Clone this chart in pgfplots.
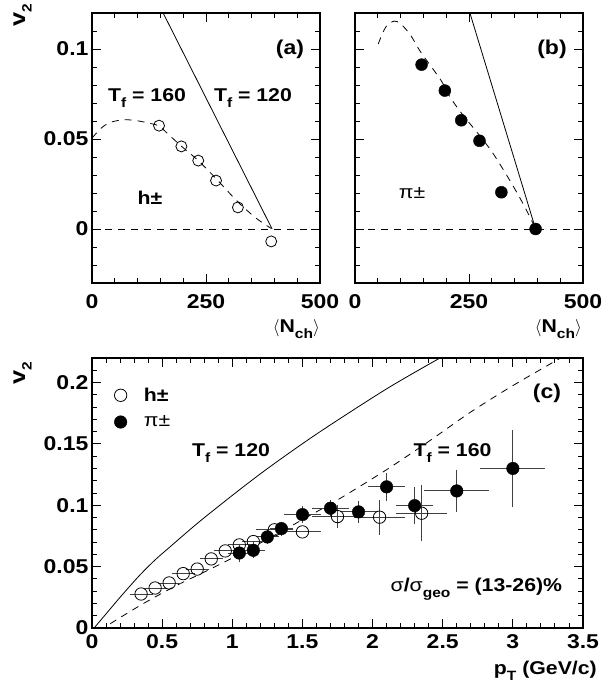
\documentclass[border=0pt]{standalone}
\usepackage{pgfplots}
\pgfplotsset{compat=1.18}
\usepackage{fontspec}
\setmainfont{Liberation Sans}[FakeStretch=1.15]
\newcommand\sub[1]{\raisebox{-0.3em}{\fontsize{13.5}{13.5}\selectfont #1}}
\newcommand\anfont{\fontsize{18.5}{20}\selectfont\bfseries}
\begin{document}
\begin{tikzpicture}[x=1pt,y=1pt]
\pgfplotsset{
  rootstyle/.style={
    scale only axis, anchor=south west,
    tick align=inside,
    major tick length=9pt, minor tick length=5pt,
    axis line style={line width=1.3pt},
    every tick/.style={black, line width=0.9pt},
    tick label style={font=\fontsize{20}{22}\selectfont\bfseries},
  },
  thin line/.style={black, line width=0.8pt},
  dash line/.style={black, line width=0.8pt, dash pattern=on 7pt off 6pt},
}
% ---------------- panel (a)
\begin{axis}[rootstyle, at={(92pt,407pt)}, width=228pt, height=270pt,
  xticklabel style={yshift=-8pt},
  xmin=0,xmax=500,ymin=-0.03,ymax=0.12,
  xtick={0,250,500}, xticklabels={0,250,500},
  minor xtick={50,100,150,200,300,350,400,450},
  ytick={0,0.05,0.1}, yticklabels={0,0.05,0.1},
  minor ytick={-0.02,-0.01,0.01,0.02,0.03,0.04,0.06,0.07,0.08,0.09,0.11},
]
\addplot[dash line] coordinates {(0,0) (500,0)};
\addplot[dash line, smooth] coordinates {(0,0.0505)(20,0.0560)(40,0.0592)(70,0.0607)(100,0.0601)(130,0.0585)(147,0.0572)(170,0.0520)(196,0.0460)(233,0.0380)(272,0.0280)(320,0.0150)(360,0.0060)(393,0.0003)};
\addplot[thin line] coordinates {(156,0.12)(395,0)};
\addplot[only marks, mark=o, mark size=5.5pt, mark options={black, line width=0.8pt, fill=white}] coordinates {(147,0.0574)(196,0.0459)(233,0.0380)(272,0.0269)(320,0.0120)(393,-0.0069)};
\node[font=\fontsize{20}{22}\selectfont\bfseries] at (axis cs:434,0.1) {(a)};
\node[font=\anfont, anchor=base] at (axis cs:120.6,0.0707) {T\sub{f} = 160};
\node[font=\anfont, anchor=base] at (axis cs:353,0.0707) {T\sub{f} = 120};
\node[font=\anfont] at (axis cs:127,0.0172) {h±};
\end{axis}
% ---------------- panel (b)
\begin{axis}[rootstyle, at={(355pt,407pt)}, width=228pt, height=270pt,
  xticklabel style={yshift=-8pt},
  xmin=0,xmax=500,ymin=-0.03,ymax=0.12,
  xtick={0,250,500}, xticklabels={0,250,500},
  minor xtick={50,100,150,200,300,350,400,450},
  ytick={0,0.05,0.1}, yticklabels={},
  minor ytick={-0.02,-0.01,0.01,0.02,0.03,0.04,0.06,0.07,0.08,0.09,0.11},
]
\addplot[dash line] coordinates {(0,0) (500,0)};
\addplot[dash line, smooth] coordinates {(51,0.1028)(60,0.1085)(70,0.1130)(86,0.1155)(100,0.1140)(121,0.1080)(143,0.0987)(164,0.0913)(190,0.0820)(208,0.0735)(233,0.0645)(273,0.0520)(300,0.0430)(330,0.0310)(360,0.0180)(385,0.0060)(396,0.0)};
\addplot[thin line] coordinates {(252,0.12)(396,0)};
\addplot[only marks, mark=*, mark size=6pt, mark options={black}] coordinates {(146,0.0913)(197,0.0769)(233,0.0604)(273,0.0490)(321,0.0204)(396,0.0)};
\node[font=\fontsize{20}{22}\selectfont\bfseries] at (axis cs:432,0.1) {(b)};
\node[font=\fontsize{18.5}{20}\selectfont] at (axis cs:125,0.02) {π±};
\end{axis}
% ---------------- panel (c)
\begin{axis}[rootstyle, at={(92pt,62pt)}, width=491pt, height=270pt,
  xticklabel style={yshift=-3pt},
  xmin=0,xmax=3.5,ymin=0,ymax=0.22,
  xtick={0,0.5,1,1.5,2,2.5,3,3.5}, xticklabels={0,0.5,1,1.5,2,2.5,3,3.5},
  minor xtick={0.1,0.2,0.3,0.4,0.6,0.7,0.8,0.9,1.1,1.2,1.3,1.4,1.6,1.7,1.8,1.9,2.1,2.2,2.3,2.4,2.6,2.7,2.8,2.9,3.1,3.2,3.3,3.4},
  ytick={0,0.05,0.1,0.15,0.2}, yticklabels={0,0.05,0.1,0.15,0.2},
  minor ytick={0.01,0.02,0.03,0.04,0.06,0.07,0.08,0.09,0.11,0.12,0.13,0.14,0.16,0.17,0.18,0.19,0.21},
  legend style={draw=none, fill=none, at={(rel axis cs:0.039,0.905)}, anchor=north west,
    nodes={font=\fontsize{18.5}{20}\selectfont}, row sep=9pt, column sep=15pt},
  legend cell align=left,
  legend image code/.code={\draw[#1] plot coordinates {(0.3cm,0cm)};},
]
\addplot[thin line, smooth, forget plot] coordinates {(0.015,0)(0.1,0.0115)(0.2,0.025)(0.336,0.0425)(0.45,0.0555)(0.55,0.0655)(0.764,0.0865)(1.05,0.1125)(1.288,0.1330)(1.62,0.1595)(2.095,0.1945)(2.48,0.2200)(2.52,0.2225)};
\addplot[dash line, smooth, forget plot] coordinates {(0.13,0.0035)(0.36,0.0195)(0.6,0.0345)(0.84,0.0478)(1.05,0.0600)(1.3,0.0755)(1.55,0.0915)(1.76,0.1050)(2.1,0.1290)(2.4,0.1520)(2.7,0.1760)(3.0,0.1975)(3.34,0.2200)(3.37,0.2222)};
\addplot[only marks, mark=o, mark size=6.2pt, mark options={black, line width=0.8pt, fill=white},
  error bars/.cd, x dir=both, x explicit, y dir=none,
  error bar style={black!75, line width=0.9pt}, error mark options={black!75, mark size=4.5pt, line width=0.9pt}]
  table[x=x, y=y, x error=ex] {
x y ex
0.35 0.0277 0.05
0.45 0.0326 0.05
0.55 0.0367 0.05
0.65 0.0443 0.05
0.75 0.0480 0.05
0.85 0.0563 0.05
0.95 0.0628 0.05
1.05 0.0677 0.05
1.15 0.0704 0.05
1.30 0.0800 0.1
1.50 0.0783 0.1
};
\addlegendentry{\bfseries h±}
\addplot[only marks, mark=*, mark size=6.3pt, mark options={black},
  error bars/.cd, x dir=both, x explicit, y dir=both, y explicit,
  error bar style={black!75, line width=0.9pt}, error mark options={black!75, mark size=4.5pt, line width=0.9pt}]
  table[x=x, y=y, x error=ex, y error=ey] {
x y ex ey
1.05 0.0611 0.05 0.004
1.15 0.0633 0.05 0.003
1.25 0.0742 0.05 0.002
1.35 0.0810 0.05 0.002
1.50 0.0924 0.1 0.003
1.70 0.0976 0.1 0.003
1.90 0.0946 0.1 0.0055
2.10 0.1150 0.1 0.0075
2.30 0.0997 0.1 0.0115
2.60 0.1117 0.2 0.0137
3.00 0.1300 0.2 0.0277
};
\addlegendentry{π±}
\addplot[only marks, mark=o, mark size=6.2pt, mark options={black, line width=0.8pt, fill=white}, forget plot,
  error bars/.cd, x dir=both, x explicit, y dir=both, y explicit,
  error bar style={black!75, line width=0.9pt}, error mark options={black!75, mark size=4.5pt, line width=0.9pt}]
  table[x=x, y=y, x error=ex, y error=ey] {
x y ex ey
1.75 0.0908 0.15 0.006
2.05 0.0903 0.15 0.0105
2.35 0.0935 0.15 0.0190
};
\node[font=\fontsize{20}{22}\selectfont\bfseries] at (axis cs:3.243,0.1915) {(c)};
\node[font=\anfont, anchor=base] at (axis cs:0.991,0.1396) {T\sub{f} = 120};
\node[font=\anfont, anchor=base] at (axis cs:2.57,0.1396) {T\sub{f} = 160};
\node[font=\anfont, anchor=base] at (axis cs:2.74,0.0296) {{\mdseries σ}/{\mdseries σ}\sub{geo} = (13-26)\%};
\end{axis}
% axis titles
\node[rotate=90, anchor=base east, font=\fontsize{22}{22}\selectfont\bfseries] at (25,690) {v\sub{2}};
\node[rotate=90, anchor=base east, font=\fontsize{22}{22}\selectfont\bfseries] at (25,332) {v\sub{2}};
\node[anchor=base east, font=\fontsize{18.5}{20}\selectfont\bfseries, inner sep=0pt] at (320,357) {$\langle$N\sub{ch}$\rangle$};
\node[anchor=base east, font=\fontsize{18.5}{20}\selectfont\bfseries, inner sep=0pt] at (582,357) {$\langle$N\sub{ch}$\rangle$};
\node[anchor=base east, font=\fontsize{18.5}{20}\selectfont\bfseries, inner sep=0pt] at (597,15) {p\sub{T} (GeV/c)};
\pgfresetboundingbox
\path[use as bounding box] (0,0) rectangle (603,690);
\end{tikzpicture}
\end{document}
